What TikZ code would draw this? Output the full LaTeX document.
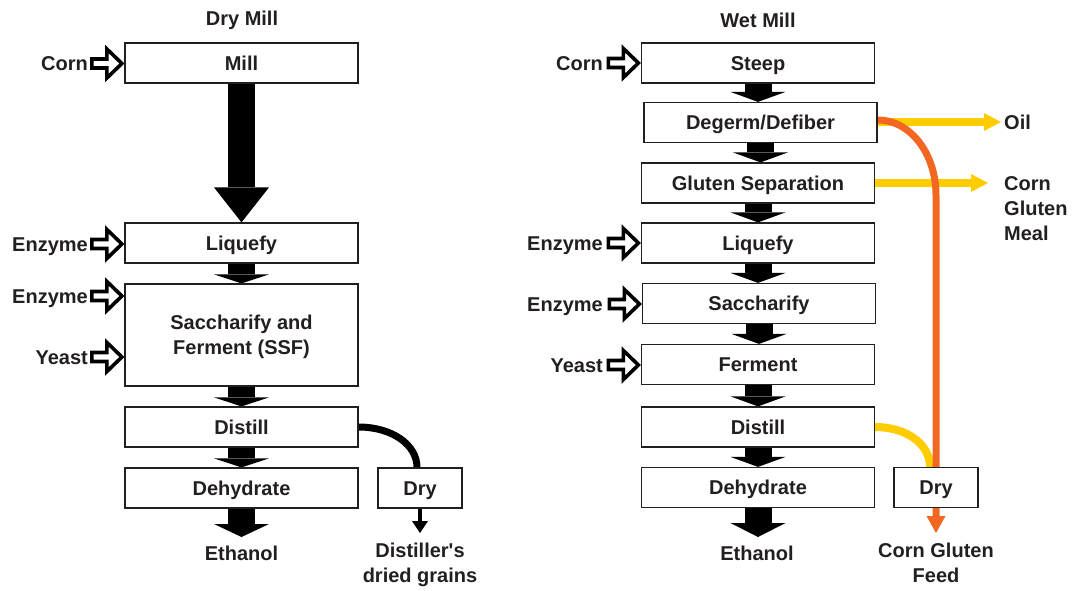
\documentclass[tikz,border=0pt]{standalone}
\usepackage{fontspec}
\setmainfont{Liberation Sans}
\usetikzlibrary{arrows.meta,calc,backgrounds}
\definecolor{ink}{HTML}{231F20}
\definecolor{gold}{HTML}{FFCC00}
\definecolor{rust}{HTML}{F26822}
\tikzset{box/.style={draw=ink, line width=1.2pt, fill=white,
         minimum width=233pt, minimum height=40pt, inner sep=0pt,
         text height=14pt, text depth=0pt},
         flow/.style={line width=27pt,
         -{Triangle[width=55pt,length=#1,line width=0pt]}},
         feed/.style={draw=black, line width=3.6pt, fill=white, line join=miter},
         feedlabel/.style={anchor=base east, inner sep=0pt},
         outlet/.style={anchor=north, inner ysep=9pt, align=center},
         goldarrow/.style={gold, line width=8pt,
         -{Triangle[width=18pt,length=17pt,line width=0pt]}}}
\newcommand\feed[2]{\draw[feed] ($(#1.base -| #2.west)+(-2.5,-7)$)
  -- ++(-15,-14.5) -- ++(0,10) -- ++(-15,0) -- ++(0,9) -- ++(15,0) -- ++(0,10) -- cycle;}

\begin{document}
\begin{tikzpicture}[x=1pt, y=-1pt, text=ink,
  font=\bfseries\fontsize{20}{25}\selectfont]
  \useasboundingbox (0,0) rectangle (1072,590);
  \node (drytitle) at (242,20) {Dry Mill};
  \node (wettitle) at (758,20) {Wet Mill};
  % dry mill
  \foreach \n/\y/\t in {mill/63/Mill, liqA/243/Liquefy, disA/427/Distill, dehA/488/Dehydrate}
    \node[box] (\n) at (241.5,\y) {\t};
  \node[box, minimum height=102pt, align=center, text height=39pt] (ssf) at (241.5,335)
    {Saccharify and\\Ferment (SSF)};
  \node[box, minimum width=84pt] (dryA) at (420,488) {Dry};
  \node[outlet] (ethA) at (241.5,537) {Ethanol};
  \node[outlet, inner ysep=10pt] (ddg) at (420,533) {Distiller\textquotesingle s\\dried grains};
  \node[feedlabel] (cornA) at (88,70.5) {Corn};
  \node[feedlabel] (enzA) at (88,251) {Enzyme};
  \node[feedlabel] (enzB) at (88,303) {Enzyme};
  \node[feedlabel] (yeastA) at (88,364) {Yeast};
  % wet mill
  \foreach \n/\x/\y/\t in {steep/758/63/Steep, glut/758/183/Gluten Separation,
      liqB/758/243/Liquefy, sacB/759/303.5/Saccharify, ferB/758/364.5/Ferment,
      disB/758/427/Distill, dehB/758/487.5/Dehydrate}
    \node[box] (\n) at (\x,\y) {\t};
  \node[box] (degB) at (760.5,122.5) {Degerm/Defiber};
  \node[box, minimum width=84pt] (dryB) at (936,487.5) {Dry};
  \node[outlet] (ethB) at (757,537) {Ethanol};
  \node[outlet, inner ysep=10pt] (cgf) at (936,533) {Corn Gluten\\Feed};
  \node[anchor=west, inner sep=3pt] (oil) at (1001,122) {Oil};
  \node[anchor=west, inner sep=3pt, align=left] (cgm) at (1001,209) {Corn\\Gluten\\Meal};
  \node[feedlabel] (cornB) at (603,70) {Corn};
  \node[feedlabel] (enzC) at (603,250) {Enzyme};
  \node[feedlabel] (enzD) at (603,311) {Enzyme};
  \node[feedlabel] (yeastB) at (603,372) {Yeast};
  \coordinate (bend) at (936,195);

  \begin{scope}[on background layer]
    \foreach \a/\b/\l in {mill/liqA/35, liqA/ssf/9, ssf/disA/9, disA/dehA/9, dehA/ethA/13,
        steep/degB/10, degB/glut/10, glut/liqB/10, liqB/sacB/10, sacB/ferB/10,
        ferB/disB/10, disB/dehB/10, dehB/ethB/14}
      \draw[flow=\l pt] (\a.south) -- (\a.south |- \b.north);
    \draw[line width=7pt] (disA.east) .. controls +(33,0) and +(0,-23) .. ($(dryA.north)+(-3,0)$);
    \draw[line width=4pt, -{Triangle[width=16pt,length=12pt,line width=0pt]}] (dryA) -- (ddg);
    \draw[goldarrow] (degB.east |- oil) -- (oil);
    \draw[goldarrow, shorten >=13pt] (glut.east) -- (glut.east -| cgm.west);
    \draw[gold, line width=8pt] (disB.east) .. controls +(31,0) and +(0,-23) .. ($(dryB.north)+(-6,0)$);
    \draw[rust, line width=7pt, -{Triangle[width=19pt,length=17pt,line width=0pt]}]
      ($(degB.east)+(0,-2.5)$) .. controls +(33,0) and +(0,-41) .. (bend) -- (cgf);
  \end{scope}

  \feed{cornA}{mill} \feed{enzA}{liqA} \feed{enzB}{ssf} \feed{yeastA}{ssf}
  \feed{cornB}{steep} \feed{enzC}{liqB} \feed{enzD}{sacB} \feed{yeastB}{ferB}
\end{tikzpicture}
\end{document}
